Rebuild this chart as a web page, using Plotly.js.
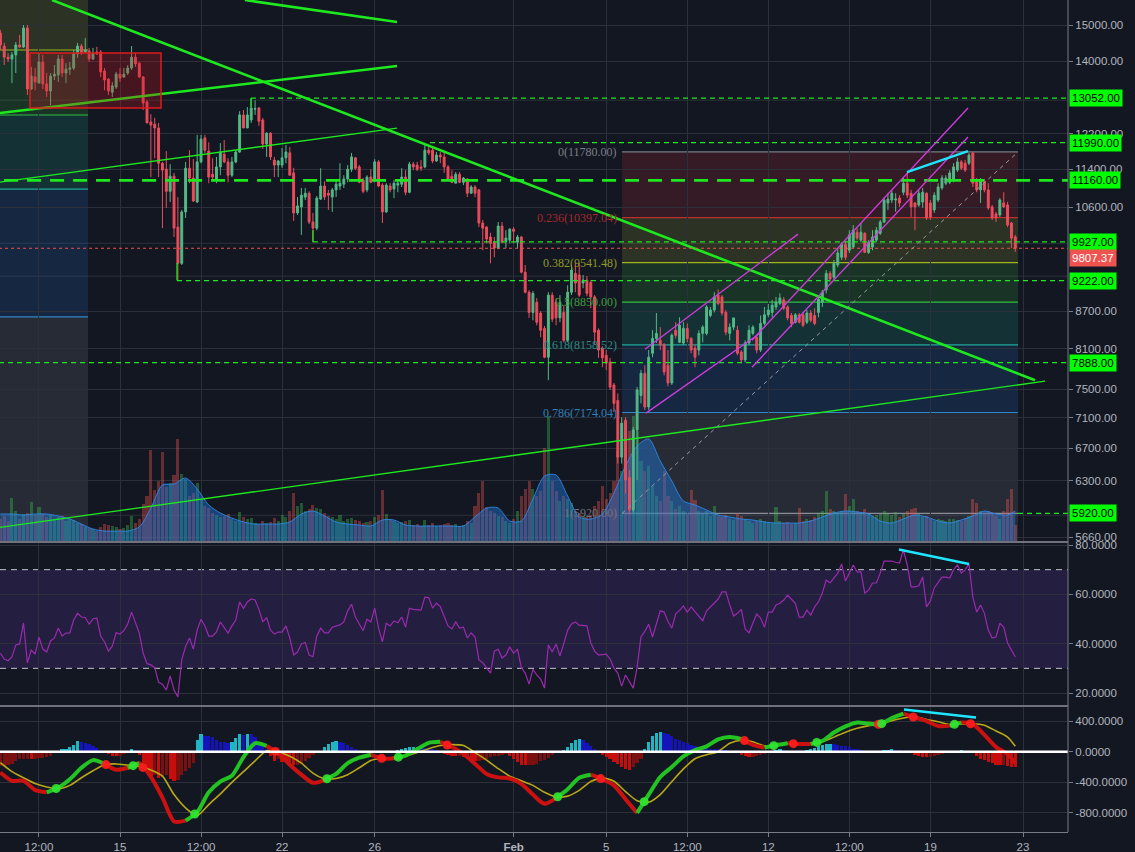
<!DOCTYPE html>
<html><head><meta charset="utf-8">
<script src="https://cdn.plot.ly/plotly-3.0.1.min.js"></script>
<style>html,body{margin:0;padding:0;background:#131722;}#chart{width:1135px;height:852px;}</style>
</head><body><div id="chart"></div>
<script>
// ---------- DATA (BTC/USD 4h candles, 2018-01-09 20:00 .. 2018-02-22 16:00) ----------
const openP = [
14770,14410,14110,14060,14170,14440,14385,14915,13280,13590,
13430,13980,13410,13230,13610,13640,14060,13690,13790,13820,
14200,14410,14250,14280,14060,14250,14250,13740,13530,13200,
13330,13660,13590,13690,13820,14110,13950,13590,12955,12470,
12420,12330,11530,11400,10930,11250,10210,9530,10510,11420,
11210,10710,11560,12100,11800,11290,11170,11450,11730,11560,
11270,11560,11780,12640,12330,12520,12780,12810,12520,11960,
12210,11600,11490,11490,11650,11760,11320,10490,10610,10810,
10890,10310,10190,10770,11040,10890,10810,10960,11040,11080,
11190,11400,11650,11450,11170,10960,11230,11170,11560,11060,
10510,11040,10980,11060,11080,11230,10910,11510,11490,11450,
11450,11820,11820,11580,11710,11670,11450,11250,11100,11290,
11120,11190,10890,11020,10960,10290,10210,10020,9920,9810,
10230,9940,9960,10170,9920,10020,9370,9020,8680,8850,
8670,8420,7970,8970,8850,8590,8680,8230,9020,9350,
9320,9180,9230,9190,8940,8390,8110,8000,7900,7560,
7340,6590,7070,6340,5960,6940,7410,7730,7250,8030,
8260,8230,8160,7850,7590,8390,8200,8190,8420,8260,
8110,8080,8340,8340,8630,8720,8970,8940,8680,8340,
8440,8390,8050,7930,8190,8340,8280,8080,8500,8640,
8680,8770,8830,8890,8770,8630,8520,8640,8640,8520,
8670,8630,8680,8850,9060,9350,9280,9500,9640,9880,
9770,9830,10110,9960,10090,9730,9830,9960,10090,10310,
10690,10750,10750,10790,10910,11100,10890,10690,10650,10710,
10890,10690,10550,10750,11000,11100,11120,11170,11380,11560,
11530,11530,11760,11170,10960,11140,10960,10610,10470,10450,
10690,10650,10290,10020];
const highP = [
14860,14500,14220,14250,14520,14720,15000,15000,13850,13820,
14220,14170,13690,13690,13900,14170,14170,13950,13980,14300,
14500,14470,14630,14360,14360,14390,14300,13820,13560,13460,
13720,13820,13820,13900,14410,14220,13980,13610,13000,12660,
12570,12450,11560,11800,11510,11320,10810,10550,11560,11820,
11620,12170,12170,12170,12000,11640,11670,11980,12050,11640,
11670,11820,12730,12760,12830,13050,13000,12830,12570,12230,
12230,11670,11600,11870,11940,11890,11430,10810,11000,11000,
10930,10490,10830,11420,11140,10960,11000,11170,11530,11270,
11490,11760,11670,11490,11210,11270,11400,11620,11600,11100,
11100,11100,11170,11170,11420,11380,11560,11560,11560,11600,
11980,11890,11890,11780,11780,11780,11490,11380,11340,11340,
11230,11210,11060,11060,10980,10350,10230,10100,10020,10310,
10310,10150,10190,10210,10060,10040,9500,9055,9040,8920,
8700,8460,9020,9020,8920,8970,8800,9140,9500,9530,
9530,9320,9300,9230,8970,8420,8140,8080,7960,7590,
7440,7110,7110,6430,6980,7530,7780,7850,8080,8390,
8670,8440,8190,8080,8340,8520,8600,8520,8500,8280,
8160,8390,8470,8800,8770,9020,9070,8970,8720,8500,
8590,8460,8080,8230,8470,8470,8310,8630,8770,8820,
8890,8940,9000,8940,8800,8670,8670,8670,8690,8720,
8720,8750,8940,9060,9410,9390,9590,9810,9920,9940,
10150,10250,10190,10290,10110,9960,10150,10210,10350,10810,
10890,10960,10890,10850,11210,11340,10960,10710,10960,11000,
10910,10750,10910,11100,11270,11270,11380,11530,11650,11600,
11600,11760,11780,11210,11210,11190,11100,10650,10510,10790,
10910,10710,10310,10060];
const lowP = [
14300,13900,13980,13430,13690,14360,14360,13130,13254,13250,
13430,13280,13080,12880,13510,13460,13590,13430,13640,13770,
14090,14170,14220,13980,14030,14170,13590,13250,13130,13080,
13280,13460,13560,13640,13770,13850,13560,12760,12450,11230,
11640,11230,10190,10590,10710,10020,9230,9500,10390,11100,
10710,10690,11530,11760,11100,11170,11100,11270,11530,11120,
11230,11530,11760,12330,12330,12450,12640,12380,11850,11670,
11600,11230,11230,11430,11530,11270,10330,10450,10060,10750,
10270,9920,10150,10750,10750,10550,10510,10810,10960,11000,
11120,11340,11380,11100,10890,10910,11100,11120,11020,10290,
10490,10910,10790,10910,11020,10850,10890,11380,11360,11360,
11420,11710,11530,11560,11530,11320,11170,11100,11100,11100,
11060,10810,10890,10810,10210,9770,9900,9530,9640,9790,
9900,9810,9900,9900,9810,9350,9000,8590,8550,8470,
8280,7955,7630,8520,8470,8520,8200,8200,8970,9020,
8940,9090,8950,8750,8160,7960,7820,7780,7490,7180,
6510,6510,6150,5920,5930,6310,7300,7210,7210,7970,
8190,8080,7700,7540,7560,8260,8190,8160,8200,8030,
7820,8000,8200,8310,8600,8680,8800,8630,8310,8230,
8390,8000,7880,7890,8160,8310,8030,8050,8470,8600,
8600,8720,8800,8720,8550,8440,8500,8500,8440,8490,
8520,8470,8600,8770,9000,9190,9230,9460,9590,9590,
9720,9810,9960,9920,9720,9700,9770,9920,10060,10290,
10550,10690,10510,10610,10850,10790,10410,10150,10610,10590,
10350,10350,10490,10710,10960,11060,11080,11120,11340,11380,
11340,11490,11020,10910,10690,10910,10550,10350,10310,10410,
10590,10210,9810,9740];
const closeP = [
14440,14110,14060,14170,14440,14385,14915,13280,13610,13460,
13980,13410,13230,13610,13660,14060,13690,13790,13820,14200,
14410,14220,14300,14060,14220,14200,13720,13510,13230,13360,
13660,13560,13660,13820,14110,13930,13590,12930,12450,12400,
12330,11530,11380,10930,11250,10190,9530,10510,11420,11210,
10730,11560,12070,11820,11230,11230,11450,11780,11560,11270,
11560,11780,12640,12330,12640,12810,12790,12490,11960,12210,
11670,11490,11580,11650,11780,11270,10490,10630,10850,10890,
10310,10190,10790,11040,10810,10850,10960,11080,11100,11190,
11400,11670,11420,11120,10930,11230,11120,11560,11040,10510,
11060,10960,11100,11100,11230,10910,11510,11450,11400,11420,
11820,11760,11580,11710,11670,11450,11190,11120,11290,11120,
11210,10890,11020,10890,10290,10190,9980,9900,9810,10230,
9920,10000,10170,10130,10020,9370,9020,8680,9000,8520,
8390,7970,8970,8570,8590,8850,8230,9020,9410,9180,
8970,9230,9000,8940,8360,8080,7960,7880,7530,7300,
6590,7030,6310,5960,6940,7490,7730,7250,7970,8260,
8340,8160,7750,7590,8310,8310,8470,8420,8260,8080,
7970,8340,8440,8770,8720,8940,8830,8670,8360,8440,
8590,8030,7930,8190,8390,8440,8080,8500,8640,8720,
8800,8850,8920,8750,8590,8500,8640,8520,8470,8670,
8550,8500,8900,9020,9350,9250,9530,9720,9880,9640,
10060,10150,10000,10110,9730,9920,10020,10150,10310,10750,
10770,10890,10770,10690,11100,10850,10610,10610,10890,10910,
10390,10410,10850,11020,11210,11210,11320,11450,11560,11420,
11380,11710,11100,10960,11170,10960,10590,10390,10390,10750,
10610,10250,10000,9807.37];
const volume = [
22,25,20,43,30,22,27,28,39,26,
34,27,24,26,22,24,25,20,22,21,
18,17,14,13,12,10,14,17,16,15,
14,12,13,16,25,18,22,37,45,91,
51,60,89,54,58,66,102,67,62,45,
48,58,42,35,33,28,26,24,25,27,
22,20,29,24,22,23,18,17,20,18,
19,23,20,26,24,30,48,35,38,30,
32,36,33,32,28,25,24,22,26,20,
22,23,21,20,18,19,20,24,26,51,
27,22,20,18,19,20,21,16,17,15,
21,16,18,15,16,17,18,16,17,15,
16,20,18,35,48,60,34,30,28,25,
24,20,18,22,30,45,52,60,52,45,
50,93,125,60,50,40,45,42,38,30,
28,25,24,26,35,40,55,42,48,60,
90,70,95,110,125,110,80,70,75,55,
45,40,70,45,40,32,35,30,28,51,
41,30,27,30,25,35,25,24,26,22,
21,28,25,22,20,18,20,22,20,19,
18,34,20,18,19,17,18,33,20,22,
21,24,28,30,50,32,30,28,30,47,
35,42,30,28,32,27,25,26,27,30,
28,26,29,24,27,30,32,33,27,24,
25,22,20,22,21,20,22,22,21,20,
23,25,42,38,30,28,30,28,25,22,
30,42,52,16];
// volume moving average, read every 3rd candle (indices 0,3,...,261,263)
const volMA = [
27,27,26,27,27,25,22,17,12,10,
10,10,14,33,56,57,63,52,36,28,
23,19,17,17,17,19,27,30,25,19,
17,16,15,21,21,16,15,15,15,15,
15,24,33,33,20,20,42,65,66,45,
24,22,27,48,75,95,102,80,60,40,
36,31,26,24,22,21,19,18,18,18,
20,24,28,30,29,27,20,18,22,26,
24,20,18,21,25,30,27,26,30];
const rsi = [
36.1,33.8,33.1,34.6,39.5,39.9,48.4,32.2,37.4,35.8,
42.7,37.8,36.6,41.1,42.3,46.3,43.1,44.3,44.4,49.6,
52.3,50.8,50.6,47.9,50.0,50.4,43.1,40.7,37.0,39.0,
44.4,43.9,45.3,48.0,52.8,48.8,44.3,36.2,31.9,31.4,
30.3,24.3,23.6,21.2,26.9,21.2,18.4,33.4,38.9,42.3,
37.8,45.5,49.9,47.2,43.1,43.1,44.8,48.8,46.7,44.3,
47.2,49.6,56.9,54.3,56.9,58.1,57.7,53.9,48.8,50.6,
45.5,43.9,44.7,44.7,47.2,42.3,35.4,36.6,39.9,40.5,
35.4,34.7,43.1,46.3,44.4,44.4,46.7,47.0,47.6,48.8,
53.3,56.0,50.8,48.0,45.3,49.9,48.8,54.4,46.3,40.7,
48.3,47.2,49.2,48.5,50.8,46.7,54.4,53.9,53.6,53.6,
58.9,58.7,54.4,56.4,55.0,51.2,47.2,46.0,48.8,46.3,
46.7,42.3,44.4,42.7,33.4,32.3,30.1,28.1,37.0,37.7,
34.2,35.4,38.7,36.1,37.8,30.3,28.1,23.6,29.6,27.3,
25.6,22.0,39.5,36.6,39.9,35.0,40.0,45.5,48.0,48.8,
47.5,47.2,47.2,40.3,37.0,35.4,35.6,35.8,33.8,30.1,
28.1,22.8,27.3,24.5,22.0,30.5,42.7,45.0,47.9,42.7,
48.0,53.3,52.8,49.0,46.3,52.1,53.5,55.3,52.8,54.9,
53.0,51.2,49.3,53.3,54.9,56.5,58.1,61.0,61.0,55.7,
51.2,52.3,53.9,46.0,44.4,48.3,52.0,50.4,46.7,52.8,
52.8,55.7,56.4,57.7,59.7,58.0,56.4,50.8,50.8,53.6,
51.6,54.9,57.0,60.5,65.8,64.6,66.5,68.6,72.3,65.4,
68.6,71.9,69.1,69.1,60.5,61.7,64.6,64.6,68.6,73.5,
73.5,73.5,73.0,72.7,78.0,71.9,63.0,63.0,63.5,67.0,
54.9,57.3,62.6,64.6,67.0,67.0,66.6,69.9,71.9,68.6,
69.9,72.3,58.9,52.8,55.7,52.3,45.5,42.3,42.7,48.3,
46.7,40.3,37.4,34.6];
// MACD line and signal, read every 3rd candle (indices 0,3,...,261,263)
const macdLine = [
-271,-380,-380,-500,-530,-470,-360,-210,-110,-160,
-236,-210,-150,-330,-600,-910,-900,-790,-530,-390,
-314,-70,110,75,-20,-170,-300,-406,-370,-290,
-150,-79,-40,-90,-85,-50,30,115,128,60,
-30,-157,-290,-335,-350,-420,-560,-680,-605,-490,
-340,-300,-360,-440,-620,-800,-560,-330,-200,-60,
20,70,160,190,165,90,55,85,110,100,
100,140,250,330,380,367,355,440,498,445,
400,335,340,380,360,220,60,-30,-150];
const macdSignal = [
-144,-260,-340,-415,-460,-485,-440,-340,-249,-170,
-160,-175,-190,-240,-320,-560,-734,-835,-690,-550,
-400,-260,-120,13,0,-60,-150,-280,-354,-350,
-300,-210,-115,-85,-79,-60,-10,39,80,92,
80,-13,-110,-220,-320,-380,-440,-530,-590,-580,
-505,-390,-345,-385,-520,-640,-660,-560,-390,-225,
-92,-40,0,110,150,130,75,80,105,105,
110,131,190,255,305,340,360,405,440,455,
420,390,354,360,365,345,270,190,70];
const macdHist = [
-190,-185,-175,-160,-120,-100,-100,-90,-100,-95,
-85,-80,-70,-60,-20,15,30,40,55,90,
145,130,110,100,75,50,25,10,-30,-50,
-60,-55,-35,-10,40,20,-40,-150,-250,-314,
-300,-345,-330,-300,-360,-380,-370,-300,-250,-210,
-150,150,230,210,200,190,150,130,120,115,
120,180,230,220,235,225,190,120,80,30,
-60,-120,-100,-130,-140,-160,-180,-175,-160,-120,
-80,-40,-20,10,60,100,130,140,130,115,
90,60,30,15,-10,-20,-25,-20,-15,-20,
-10,5,10,25,40,50,55,60,60,55,
50,40,30,20,5,-30,-40,-50,-60,-55,
-70,-80,-90,-120,-120,-110,-90,-70,-60,-50,
-40,-30,-60,-100,-140,-170,-180,-175,-170,-160,
-120,-110,-80,-40,-20,-15,20,60,110,150,
170,150,110,70,30,5,-40,-70,-100,-130,
-160,-200,-230,-240,-200,-150,-90,40,120,200,
240,260,250,230,200,170,150,130,110,90,
70,60,50,45,40,35,30,25,20,10,
0,-20,-40,-60,-70,-65,-55,-40,-25,-10,
10,25,30,20,5,-10,-15,-10,10,25,
35,50,70,85,95,100,95,90,80,70,
55,40,30,20,5,-10,0,10,15,20,
25,30,25,20,15,5,-20,-40,-55,-65,
-70,-65,-55,-45,-30,-20,-10,5,15,20,
15,10,-20,-60,-90,-110,-130,-150,-170,-180,
-175,-185,-195,-200];

// axis ticks (labelled), plus grid levels whose labels are hidden behind the price tags
const priceTicks = [5660,6300,6700,7100,7500,8100,8700,10600,11400,12200,14000,15000];
const hiddenGrid = [5900,9300,9900,13000];
const rsiTicks = [20,40,60,80];
const macdTicks = [-800,-400,0,400];
const xTickVals = ['2018-01-11 12:00','2018-01-15','2018-01-18 12:00','2018-01-22','2018-01-26','2018-02-01','2018-02-05','2018-02-08 12:00','2018-02-12','2018-02-15 12:00','2018-02-19','2018-02-23'];
const xTickText = ['12:00','15','12:00','22','26','<b>Feb</b>','5','12:00','12','12:00','19','23'];

// drawings (dates / prices)
const trendLines = [
  ['2018-01-12 01:30',15731,'2018-02-23 12:26',7629,2.6],
  ['2018-01-09 19:36',12686,'2018-01-26 23:07',13874,2.6],
  ['2018-01-20 09:34',15731,'2018-01-26 23:07',15086,2.6],
  ['2018-01-09 19:36',11124,'2018-01-26 23:07',12328,1.3],
  ['2018-01-09 19:36',5766,'2018-02-23 22:48',7615,1.3]
];
const levelLines = [
  [13052,'2018-01-20 15:47',1.3],[11990,'2018-01-28 09:20',1.3],[11160,null,2.6],
  [9927,'2018-01-23 08:02',1.3],[9222,'2018-01-17 11:05',1.3],[7888,null,1.3],[5920,'2018-02-22 18:49',1.3]
];
const levelTicks = [['2018-01-20 15:47',12830,13052],['2018-01-23 08:02',10150,9927],['2018-01-17 11:05',9534,9222]];
const lastPrice = 9807.37;
const fibR = {x0:'2018-02-05 16:21', x1:'2018-02-22 18:49',
  levels:[11780,10397.04,9541.48,8850,8158.52,7174.04,5920], names:['0','0.236','0.382','0.5','0.618','0.786','1']};
const fibL = {x1:'2018-01-13 14:50', levels:[16362,14303,12639,10975,8606,5588]};
const channelLines = [
  ['2018-02-06 16:12',8093,'2018-02-13 06:47',10075],
  ['2018-02-06 17:14',7166,'2018-02-11 15:23',8343],
  ['2018-02-11 07:05',8233,'2018-02-20 14:59',12807],
  ['2018-02-11 07:05',7820,'2018-02-20 14:59',12120]
];
const fibDiag = ['2018-02-05 16:21',5920,'2018-02-22 18:49',11780];
const redBox = ['2018-01-11 02:42',14222,'2018-01-16 18:30',12807];
const cyanPrice = ['2018-02-17 23:46',11338,'2018-02-20 14:59',11800];
const cyanRsi = ['2018-02-17 15:27',78.2,'2018-02-20 16:00',72.3];
const cyanMacd = ['2018-02-17 20:38',550,'2018-02-20 23:17',445];

// ---------- BUILD ----------
const T0 = Date.UTC(2018,0,9,20,0,0), STEP = 4*3600*1000;
function ts(ms){ return new Date(ms).toISOString().slice(0,16).replace('T',' '); }
const times = closeP.map((_,i)=>ts(T0+i*STEP));
const idx3 = []; for(let k=0;k<=261;k+=3) idx3.push(k); idx3.push(263);
const t3 = idx3.map(i=>times[i]);
const XR = ['2018-01-09 19:37','2018-02-24 22:38'];

const GREEN='#53b987', RED='#eb4d5c';
const traces = [];
traces.push({type:'scatter',mode:'lines',x:t3,y:volMA,yaxis:'y4',fill:'tozeroy',
  fillcolor:'rgba(33,120,220,0.45)',line:{color:'rgba(45,140,240,0.85)',width:1,shape:'spline',smoothing:0.8},hoverinfo:'skip'});
traces.push({type:'bar',x:times,y:volume,yaxis:'y4',width:STEP*0.8,
  marker:{color:closeP.map((c,i)=>c>=openP[i]?'rgba(60,200,80,0.36)':'rgba(239,83,80,0.38)'),line:{width:0}},hoverinfo:'skip'});
traces.push({type:'candlestick',x:times,open:openP,high:highP,low:lowP,close:closeP,yaxis:'y',
  increasing:{line:{color:GREEN,width:1},fillcolor:GREEN},decreasing:{line:{color:RED,width:1},fillcolor:RED},
  whiskerwidth:0,hoverinfo:'skip'});
// RSI
traces.push({type:'scatter',mode:'lines',x:times,y:rsi,yaxis:'y2',line:{color:'#9b2aae',width:1.2},hoverinfo:'skip'});
// MACD histogram
const histColor = macdHist.map((v,i)=>{const p=i>0?macdHist[i-1]:v; if(v>=0) return v>=p?'#1fb5c2':'#1414b8'; return v<p?'#c80d0d':'#7a1010';});
traces.push({type:'bar',x:times,y:macdHist,yaxis:'y3',width:STEP*0.85,marker:{color:histColor,line:{width:0}},hoverinfo:'skip'});
// signal
traces.push({type:'scatter',mode:'lines',x:t3,y:macdSignal,yaxis:'y3',line:{color:'#b8a817',width:1.6,shape:'spline',smoothing:0.7},hoverinfo:'skip'});
// MACD two-colour line
const gY = macdLine.map(()=>null), rY = macdLine.map(()=>null);
for(let k=0;k<macdLine.length-1;k++){
  const up = macdLine[k+1]>=macdSignal[k+1];
  const arr = up?gY:rY; arr[k]=macdLine[k]; arr[k+1]=macdLine[k+1];
}
traces.push({type:'scatter',mode:'lines',x:t3,y:rY,yaxis:'y3',connectgaps:false,line:{color:'#cc1111',width:4,shape:'spline',smoothing:0.7},hoverinfo:'skip'});
traces.push({type:'scatter',mode:'lines',x:t3,y:gY,yaxis:'y3',connectgaps:false,line:{color:'#22c322',width:4,shape:'spline',smoothing:0.7},hoverinfo:'skip'});
// cross dots
const cx=[],cy=[],cc=[];
for(let k=1;k<macdLine.length;k++){
  const d0=macdLine[k-1]-macdSignal[k-1], d1=macdLine[k]-macdSignal[k];
  if((d0<0)!==(d1<0)){
    const f=d0/(d0-d1); const a=Date.parse(t3[k-1].replace(' ','T')+':00Z'), b=Date.parse(t3[k].replace(' ','T')+':00Z');
    cx.push(ts(a+f*(b-a))); cy.push(macdLine[k-1]+f*(macdLine[k]-macdLine[k-1])); cc.push(d1>0?'rgba(50,230,50,0.9)':'rgba(255,30,30,0.9)');
  }
}
traces.push({type:'scatter',mode:'markers',x:cx,y:cy,yaxis:'y3',marker:{color:cc,size:9,line:{width:0}},hoverinfo:'skip'});

// ---------- SHAPES ----------
const shapes=[], ann=[];
const LIME='#1ee81e';
const GRID='#2c303b';
function line(x0,y0,x1,y1,color,width,dash,yref,layer){
  shapes.push({type:'line',xref:'x',yref:yref||'y',x0:x0,y0:y0,x1:x1,y1:y1,line:{color:color,width:width,dash:dash||'solid'},layer:layer||'above'});
}
function rect(x0,y0,x1,y1,fill,yref,layer,lc,lw){
  shapes.push({type:'rect',xref:'x',yref:yref||'y',x0:x0,y0:y0,x1:x1,y1:y1,fillcolor:fill,line:{width:lw||0,color:lc||'rgba(0,0,0,0)'},layer:layer||'below'});
}
hiddenGrid.forEach(v=>shapes.push({type:'line',xref:'paper',yref:'y',x0:0,x1:1,y0:v,y1:v,line:{color:GRID,width:1},layer:'below'}));
// right fib
const fibFill=['rgba(242,54,69,0.15)','rgba(180,190,50,0.16)','rgba(60,200,70,0.16)','rgba(30,190,160,0.16)','rgba(40,120,220,0.17)','rgba(120,123,134,0.2)'];
const fibLine=['#787b86','#b8312f','#a3b21f','#2fbf3f','#1fa99a','#2f86c8','#8a8d96'];
const fibText=['#7c7f8a','#a8272b','#8f9a24','#3d9b3d','#2b8c82','#2f7fb8','#70737d'];
for(let k=0;k<fibR.levels.length-1;k++) rect(fibR.x0,fibR.levels[k],fibR.x1,fibR.levels[k+1],fibFill[k]);
rect(fibR.x0,5920,fibR.x1,5000,fibFill[5]);
fibR.levels.forEach((v,k)=>{
  line(fibR.x0,v,fibR.x1,v,fibLine[k],1.2,'solid','y','below');
  ann.push({xref:'x',yref:'y',x:fibR.x0,y:Math.log10(v),xanchor:'right',yanchor:'middle',xshift:-3,showarrow:false,
    text:fibR.names[k]+'('+v.toFixed(2)+')',font:{family:'Liberation Serif, DejaVu Serif, serif',size:12,color:fibText[k]}});
});
// left fib
const fibLFill=['rgba(180,190,50,0.16)','rgba(60,200,70,0.16)','rgba(30,190,160,0.16)','rgba(40,120,220,0.17)','rgba(120,123,134,0.2)'];
for(let k=0;k<fibL.levels.length-1;k++) rect('2018-01-09 00:00',fibL.levels[k],fibL.x1,fibL.levels[k+1],fibLFill[k]);
rect('2018-01-09 00:00',5588,fibL.x1,5000,fibLFill[4]);
[[14303,'#a3b21f'],[12639,'#2fbf3f'],[10975,'#1fa99a'],[8606,'#2f86c8']].forEach(d=>line('2018-01-09 00:00',d[0],fibL.x1,d[0],d[1],1.2,'solid','y','below'));
// RSI band
shapes.push({type:'rect',xref:'paper',yref:'y2',x0:0,x1:1,y0:30,y1:70,fillcolor:'rgba(103,58,183,0.2)',line:{width:0},layer:'below'});
[70,30].forEach(v=>shapes.push({type:'line',xref:'paper',yref:'y2',x0:0,x1:1,y0:v,y1:v,line:{color:'#c4c4cc',width:1,dash:'6px,5px'},layer:'below'}));
// MACD zero line
shapes.push({type:'line',xref:'paper',yref:'y3',x0:0,x1:1,y0:0,y1:0,line:{color:'#ffffff',width:2.6},layer:'above'});
// drawings
trendLines.forEach(d=>line(d[0],d[1],d[2],d[3],LIME,d[4]));
levelLines.forEach(d=>{
  const dash = d[2]>2?'14px,9px':'5px,4px';
  line(d[1]||'2018-01-09 00:00',d[0],'2018-02-26 00:00',d[0],LIME,d[2],dash);
});
levelTicks.forEach(d=>line(d[0],d[1],d[0],d[2],LIME,1.3));
line('2018-01-09 00:00',lastPrice,'2018-02-26 00:00',lastPrice,'#ef5350',1,'dot');
channelLines.forEach(d=>line(d[0],d[1],d[2],d[3],'#d23ce0',1.3));
line(fibDiag[0],fibDiag[1],fibDiag[2],fibDiag[3],'#9598a1',1,'4px,4px');
rect(redBox[0],redBox[1],redBox[2],redBox[3],'rgba(200,20,30,0.28)','y','above','#e01b1b',1.5);
line(cyanPrice[0],cyanPrice[1],cyanPrice[2],cyanPrice[3],'#1ee6ff',2.5);
line(cyanRsi[0],cyanRsi[1],cyanRsi[2],cyanRsi[3],'#1ee6ff',2.5,'solid','y2');
line(cyanMacd[0],cyanMacd[1],cyanMacd[2],cyanMacd[3],'#1ee6ff',2.5,'solid','y3');
// panel borders
const H=832;
[(H-542)/H,(H-706)/H].forEach(p=>shapes.push({type:'line',xref:'paper',yref:'paper',x0:0,x1:1,y0:p,y1:p,line:{color:'#6f727c',width:2},layer:'above'}));
shapes.push({type:'line',xref:'paper',yref:'paper',x0:1,x1:1,y0:0,y1:1,line:{color:'#787b86',width:1},layer:'above'});
// price labels
levelLines.map(d=>d[0]).forEach(v=>ann.push({xref:'paper',yref:'y',x:1,y:Math.log10(v),xanchor:'left',yanchor:'middle',xshift:1,showarrow:false,
  text:v.toFixed(2),bgcolor:'#00ff00',borderpad:2,font:{family:'Liberation Sans, Arial, sans-serif',size:11.5,color:'#000000'}}));
ann.push({xref:'paper',yref:'y',x:1,y:Math.log10(lastPrice),xanchor:'left',yanchor:'middle',xshift:1,yshift:-10,showarrow:false,
  text:lastPrice.toFixed(2),bgcolor:'#ef5350',borderpad:2,font:{family:'Liberation Sans, Arial, sans-serif',size:11.5,color:'#ffffff'}});

const tickFont={family:'Liberation Sans, Arial, sans-serif',size:11.5,color:'#b2b5be'};
const layout={
  width:1135,height:852,paper_bgcolor:'#131722',plot_bgcolor:'#131722',
  margin:{l:0,r:67,t:0,b:20},showlegend:false,hovermode:false,bargap:0,barmode:'overlay',
  xaxis:{type:'date',range:XR,rangeslider:{visible:false},anchor:'y3',tickvals:xTickVals,ticktext:xTickText,
    gridcolor:GRID,showline:true,linecolor:'#787b86',linewidth:1,ticks:'outside',ticklen:4,tickcolor:'#787b86',
    tickfont:tickFont,zeroline:false,fixedrange:true},
  yaxis4:{domain:[(H-541)/H,1],range:[0,541],visible:false,showgrid:false,fixedrange:true},
  yaxis:{overlaying:'y4',type:'log',range:[3.74956,4.19677],side:'right',anchor:'x',tickvals:priceTicks,
    ticktext:priceTicks.map(v=>v.toFixed(2)),gridcolor:GRID,ticks:'outside',ticklen:4,tickcolor:'#787b86',
    tickfont:tickFont,showline:false,zeroline:false,fixedrange:true},
  yaxis2:{domain:[(H-705)/H,(H-543)/H],range:[15.14,80.81],side:'right',anchor:'x',tickvals:rsiTicks,
    ticktext:rsiTicks.map(v=>v.toFixed(4)),gridcolor:GRID,ticks:'outside',ticklen:4,tickcolor:'#787b86',
    tickfont:tickFont,zeroline:false,fixedrange:true},
  yaxis3:{domain:[0,(H-707)/H],range:[-1048,583],side:'right',anchor:'x',tickvals:macdTicks,
    ticktext:macdTicks.map(v=>v.toFixed(4)),gridcolor:GRID,ticks:'outside',ticklen:4,tickcolor:'#787b86',
    tickfont:tickFont,zeroline:false,fixedrange:true},
  shapes:shapes,annotations:ann
};
Plotly.newPlot('chart',traces,layout,{staticPlot:true,displayModeBar:false});
</script></body></html>
